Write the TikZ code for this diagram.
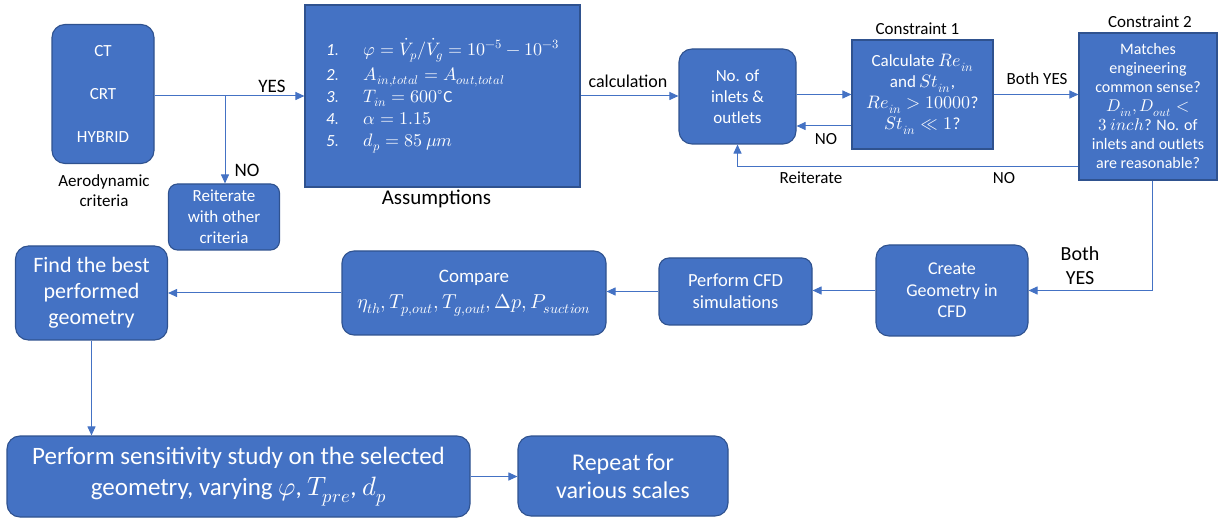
\documentclass[tikz,border=0pt]{standalone}
\usepackage{fontspec}
\usepackage{unicode-math}
\setmainfont{Carlito}
\setmathfont{latinmodern-math.otf}[Scale=1.06]
\usetikzlibrary{arrows.meta,calc}
\definecolor{boxc}{HTML}{4472C4}
\definecolor{bordc}{HTML}{2F528F}
\definecolor{linec}{HTML}{4472C4}
\newcommand{\fs}[2]{\fontsize{#1}{#2}\selectfont}
\tikzset{
  box/.style={draw=bordc, fill=boxc, line width=1.1pt, text=white, align=center, inner sep=0pt},
  rbox/.style={box, rounded corners=13pt},
  arr/.style={draw=linec, line width=1pt, -{Triangle[length=9pt,width=8pt]}},
  lbl/.style={text=black, inner sep=0pt, align=center},
}
\begin{document}
\begin{tikzpicture}[x=1pt,y=-1pt]
\useasboundingbox (0,0) rectangle (1218,518);

% top row
\node[rbox, minimum width=102, minimum height=139, font=\fs{17}{21}] (ct) at (103,94)
  {CT\\[22pt]CRT\\[22pt]HYBRID};
\node[lbl, font=\fs{17}{20}] (aero) at (104,191) {Aerodynamic\\criteria};

\node[rbox, rounded corners=9pt, minimum width=111, minimum height=66, font=\fs{17}{21}] (reit) at (224,217)
  {Reiterate\\with other\\criteria};

\node[box, minimum width=275, minimum height=182, font=\fs{17}{22}] (assump) at (442.5,96) {%
  \begin{tabular}{@{}l@{\hspace{24pt}}l@{}}
  $\mathit{1.}$ & $\varphi=\dot V_p/\dot V_g=10^{-5}-10^{-3}$\\[3pt]
  $\mathit{2.}$ & $A_{in,total}=A_{out,total}$\\
  $\mathit{3.}$ & $T_{in}=600^{\circ}\mathrm{C}$\\
  $\mathit{4.}$ & $\alpha=1.15$\\
  $\mathit{5.}$ & $d_p=85\ \mu m$
  \end{tabular}};
\node[lbl, font=\fs{21}{24}] (asslbl) at (436.5,199) {Assumptions};

\node[rbox, minimum width=117, minimum height=95, font=\fs{17}{21}] (noin) at (737.5,96.5)
  {No. of\\inlets \&\\outlets};

\node[box, minimum width=141, minimum height=109, font=\fs{17}{21}] (c1) at (922.5,94.5)
  {Calculate $Re_{in}$\\and $St_{in}$,\\$Re_{in}>10000$?\\$St_{in}\ll 1$?};
\node[lbl, font=\fs{17}{20}] (c1lbl) at (917.5,29) {Constraint 1};

\node[box, minimum width=138, minimum height=147, font=\fs{16}{19}] (c2) at (1148,106.5)
  {Matches\\engineering\\common sense?\\$D_{in},D_{out}<$\\$3\ inch$? No. of\\inlets and outlets\\are reasonable?};
\node[lbl, font=\fs{17}{20}] (c2lbl) at (1150,22) {Constraint 2};

% middle row
\node[rbox, minimum width=152, minimum height=91, font=\fs{18}{21.5}] (create) at (952,290.5)
  {Create\\Geometry in\\CFD};
\node[rbox, rounded corners=10pt, minimum width=153, minimum height=67, font=\fs{18.5}{22}] (cfd) at (735.5,291.5)
  {Perform CFD\\simulations};
\node[rbox, rounded corners=12pt, minimum width=264, minimum height=84, font=\fs{19}{26}] (cmp) at (474,293)
  {Compare\\$\eta_{th},T_{p,out},T_{g,out},\Delta p,P_{suction}$};
\node[rbox, minimum width=152, minimum height=94, font=\fs{22}{26}] (find) at (91.5,293)
  {Find the best\\performed\\geometry};

% bottom row
\node[rbox, minimum width=463, minimum height=81, font=\fs{25}{31}] (sens) at (238.5,476.5)
  {Perform sensitivity study on the selected\\geometry, varying $\varphi$, $T_{pre}$, $d_p$};
\node[rbox, minimum width=210, minimum height=80, font=\fs{24}{28}] (rep) at (623,476)
  {Repeat for\\various scales};

% connectors
\draw[arr] (ct.east |- assump.west) -- (assump.west);
\coordinate (br) at (225,96);
\draw[arr] (br) -- (br |- reit.north);
\node[lbl, font=\fs{19}{22}] (yes1) at (272,86) {YES};
\node[lbl, font=\fs{19}{22}] (no1) at (247,170) {NO};

\draw[arr] (assump.east) -- (assump.east -| noin.west);
\node[lbl, font=\fs{18}{22}] (calc) at (628,81) {calculation};

\draw[arr] (noin.east |- c1.west) -- (c1.west);
\draw[arr] ([yshift=-31.5pt]c1.west) coordinate (n1) -- (n1 -| noin.east);
\node[lbl, font=\fs{17}{20}] (no2) at (826,139) {NO};

\draw[arr] (c1.east) -- (c1.east -| c2.west);
\node[lbl, font=\fs{17}{20}] (both1) at (1037,79) {Both YES};

\draw[arr] ([yshift=-60.5pt]c2.west) -| (noin.south);
\node[lbl, font=\fs{17}{20}] (reitlbl) at (811,178) {Reiterate};
\node[lbl, font=\fs{17}{20}] (no3) at (1004,178) {NO};

\draw[arr] ([xshift=4pt]c2.south) |- (create.east);
\node[lbl, font=\fs{20}{24}] (both2) at (1080,266) {Both\\YES};

\draw[arr] (create.west) -- (create.west -| cfd.east);
\draw[arr] (cfd.west) -- (cfd.west -| cmp.east);
\draw[arr] (cmp.west) -- (cmp.west -| find.east);
\draw[arr] (find.south) -- (find.south |- sens.north);
\draw[arr] (sens.east) -- (sens.east -| rep.west);
\end{tikzpicture}
\end{document}
